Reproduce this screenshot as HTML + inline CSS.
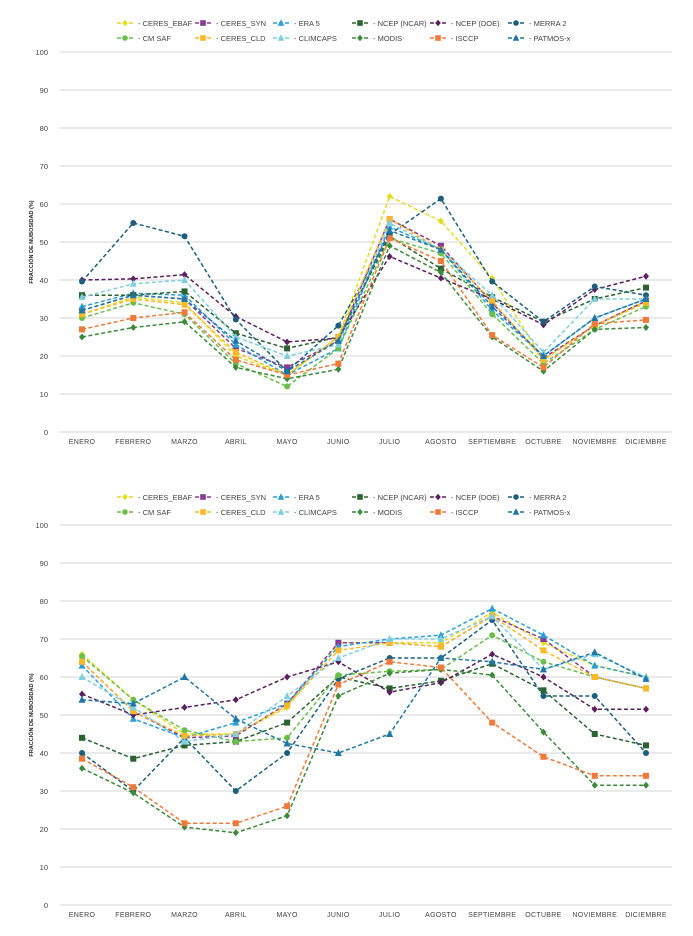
<!DOCTYPE html>
<html><head><meta charset="utf-8">
<style>
html,body{margin:0;padding:0;background:#fff;}
svg{display:block;font-family:"Liberation Sans",sans-serif;}
</style></head>
<body>
<svg id="c" width="693" height="936" viewBox="0 0 693 936"></svg>
<script>
const months=["ENERO","FEBRERO","MARZO","ABRIL","MAYO","JUNIO","JULIO","AGOSTO","SEPTIEMBRE","OCTUBRE","NOVIEMBRE","DICIEMBRE"];
const yTicks=[0,10,20,30,40,50,60,70,80,90,100];
const seriesNames=["CERES_EBAF","CERES_SYN","ERA 5","NCEP (NCAR)","NCEP (DOE)","MERRA 2","CM SAF","CERES_CLD","CLIMCAPS","MODIS","ISCCP","PATMOS-x"];
const seriesColors=["#e6dc1e","#8b3a93","#2a9fd6","#2a6330","#5a1f5e","#1c5f7d","#6abf4b","#fbb925","#7fcfe1","#3b8a3b","#f07a3a","#1f77a6"];
const seriesMarkers=["diamond","square","triangle","square","diamond","circle","circle","square","triangle","diamond","square","triangle"];
// top chart values
const top_ceresEbaf=[31,35.5,34,20,15,25,62,55.5,40.5,19,28,34.5];
const top_ceresSyn=[32,36,35,22,17,24,56,49,34,19.5,28,34.5];
const top_era5=[33,36.5,36,23,15,22,54,48,32,20,30,35];
const top_ncepNcar=[36,36,37,26,22,25,51.5,43,35.5,29,35,38];
const top_ncepDoe=[40,40.3,41.4,30.4,23.7,24.7,46.2,40.5,35,28.2,37.5,41];
const top_merra2=[39.6,55,51.5,29.6,16,28,52,61.4,39.6,29,38.3,36];
const top_cmsaf=[30,34,31,18,12,22,51,47,31,18,27,33];
const top_ceresCld=[31,35,33.5,21,15,25,56,48,34.5,19,28,34];
const top_climcaps=[35.5,39,40,25,20,23,55,48,36,21,35,35];
const top_modis=[25,27.5,29,17,14,16.5,49,42,25,16,27,27.5];
const top_isccp=[27,30,31.5,19,15,18,51,45,25.5,17,28.5,29.5];
const top_patmos=[32,36,35,24,16,24,53,48,33,20,30,35];
// bottom chart values
const bot_ceresEbaf=[66,54,45,45,52,69,69,69,77,69,63,60];
const bot_ceresSyn=[64,51,44,44.5,53,69,69,68,76,70,60,57];
const bot_era5=[63,49,44,48,53,68,70,71,78,71,63,60];
const bot_ncepNcar=[44,38.5,42,43,48,60,57,59,63.5,56.5,45,42];
const bot_ncepDoe=[55.5,50,52,54,60,64,56,58.5,66,60,51.5,51.5];
const bot_merra2=[40,30,44,30,40,59.5,65,65,75,55,55,40];
const bot_cmsaf=[65.5,54,46,43,44,60.5,61.5,62,71,64,60,57];
const bot_ceresCld=[64,51,44.5,45,52.5,67,69,68,76,67,60,57];
const bot_climcaps=[60,52,43,45,55,65,70,70,76,62,66,60];
const bot_modis=[36,29.5,20.5,19,23.5,55,61,62,60.5,45.5,31.5,31.5];
const bot_isccp=[38.5,31,21.5,21.5,26,58,64,62.5,48,39,34,34];
const bot_patmos=[54,53,60,49,42.5,40,45,65,64,62,66.5,59.5];

const topSeries=[top_ceresEbaf,top_ceresSyn,top_era5,top_ncepNcar,top_ncepDoe,top_merra2,top_cmsaf,top_ceresCld,top_climcaps,top_modis,top_isccp,top_patmos];
const botSeries=[bot_ceresEbaf,bot_ceresSyn,bot_era5,bot_ncepNcar,bot_ncepDoe,bot_merra2,bot_cmsaf,bot_ceresCld,bot_climcaps,bot_modis,bot_isccp,bot_patmos];

const NS="http://www.w3.org/2000/svg";
const svg=document.getElementById('c');
function mk(tag,attrs,parent){const e=document.createElementNS(NS,tag);for(const k in attrs)e.setAttribute(k,attrs[k]);(parent||svg).appendChild(e);return e;}
function marker(g,type,x,y,col,s){
  let e;
  if(type==="square"){e=mk('rect',{x:x-s,y:y-s,width:2*s,height:2*s,fill:col},g);}
  else if(type==="circle"){e=mk('circle',{cx:x,cy:y,r:s,fill:col},g);}
  else if(type==="diamond"){e=mk('polygon',{points:`${x},${y-s-0.5} ${x+s},${y} ${x},${y+s+0.5} ${x-s},${y}`,fill:col},g);}
  else {e=mk('polygon',{points:`${x},${y-s-1} ${x+s+0.5},${y+s} ${x-s-0.5},${y+s}`,fill:col},g);}
  
  
}
function chart(key,legendY,y0,y100,labelY,series,title){
  const x0=82,step=(646-82)/11;
  const xs=i=>x0+i*step;
  const ys=v=>y0-(y0-y100)*v/100;
  const g=mk('g',{});
  
  
  const lg=mk('g',{},g);
  
  
  const colX=[117,195,273,352,430,508];
  seriesNames.forEach((n,i)=>{
    const col=i%6,row=Math.floor(i/6);
    const lx=colX[col],ly=legendY+row*15;
    const e=mk('g',{},lg);
    
    
    mk('line',{x1:lx,y1:ly,x2:lx+16,y2:ly,stroke:seriesColors[i],'stroke-width':1.5,'stroke-dasharray':'4,2'},e);
    marker(e,seriesMarkers[i],lx+8,ly,seriesColors[i],2.8);
    mk('text',{x:lx+21,y:ly+3,'font-size':7.5,fill:'#444'},e).textContent='- '+n;
  });
  yTicks.forEach(t=>{
    const gl=mk('line',{x1:60,x2:672,y1:ys(t),y2:ys(t),stroke:'#d4d4d4','stroke-width':1},g);
    
    
    const tl=mk('text',{x:48,y:ys(t)+3,'font-size':7.5,'text-anchor':'end',fill:'#444'},g);
    
    
    tl.textContent=t;
  });
  months.forEach((m,i)=>{
    const tl=mk('text',{x:xs(i),y:labelY,'font-size':7,'text-anchor':'middle',fill:'#444','letter-spacing':'0.3'},g);
    
    
    tl.textContent=m;
  });
  const yc=(y0+y100)/2;
  const at=mk('text',{x:0,y:0,'font-size':5.5,'font-weight':'bold','text-anchor':'middle',fill:'#222',transform:`translate(33,${yc}) rotate(-90)`},g);
  
  
  at.textContent=title;
  series.forEach((vals,si)=>{
    const sg=mk('g',{},g);
    
    
    const pts=vals.map((v,i)=>xs(i)+','+ys(v)).join(' ');
    mk('polyline',{points:pts,fill:'none',stroke:seriesColors[si],'stroke-width':1.5,'stroke-dasharray':'4,2.5'},sg);
    vals.forEach((v,i)=>marker(sg,seriesMarkers[si],xs(i),ys(v),seriesColors[si],3));
  });
}
chart('top',23,432,52,444,topSeries,'FRACCIÓN DE NUBOSIDAD (%)');
chart('bottom',497,905,525,917,botSeries,'FRACCIÓN DE NUBOSIDAD (%)');
</script>
</body></html>
